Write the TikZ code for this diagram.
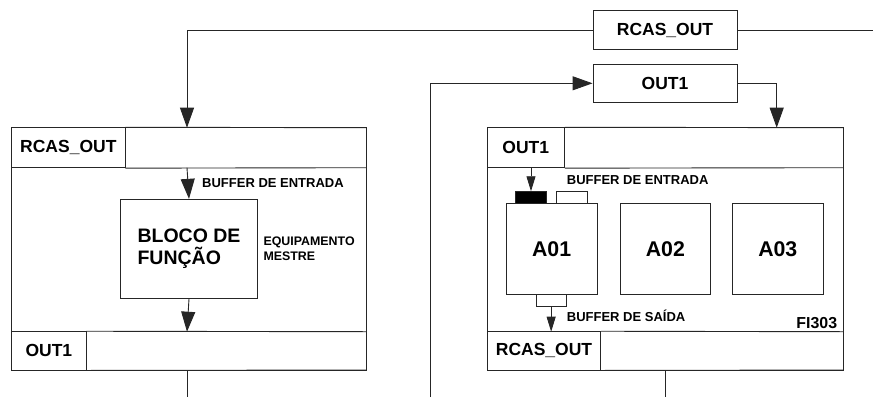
\documentclass[tikz,border=0pt]{standalone}
\usepackage{fontspec}
\setmainfont{Liberation Sans}
\usetikzlibrary{arrows.meta}
\tikzset{
  ln/.style={line width=0.9pt, draw=black!85},
  bigarr/.style={ln, -{Triangle[width=14pt,length=20pt]}},
  smallarr/.style={ln, -{Triangle[width=9pt,length=15pt]}},
  box/.style={ln, rectangle, inner sep=0pt, minimum width=#1},
  lbl/.style={inner sep=0pt, font=\fontsize{17.5}{20}\selectfont\bfseries},
  small/.style={inner sep=0pt, anchor=west, font=\fontsize{13}{15}\selectfont\bfseries},
}
\begin{document}
\begin{tikzpicture}[x=1pt,y=-1pt]
\useasboundingbox (0,0) rectangle (873,397);
% top boxes
\node[box=144, minimum height=38.6, lbl] (rcasTop) at (665,30) {RCAS\_OUT};
\node[box=144, minimum height=38, lbl] (out1Top) at (665,83.3) {OUT1};
% left block
\draw[ln] (11.7,127.7) rectangle (366.7,370);
\node[box=113.3, minimum height=40, lbl] (lhead) at (68.35,147.7) {RCAS\_OUT};
\draw[ln] (lhead.north east) -- (366.7,127.7) (lhead.south east) -- (366.7,167.7);
\node[box=74.3, minimum height=38.3, lbl] (lfoot) at (48.85,350.85) {OUT1};
\draw[ln] (lfoot.north east) -- (366.7,331.7) (lfoot.south east) -- (366.7,370);
\node[box=136.6, minimum height=99, align=left, inner sep=0pt,
  font=\fontsize{19.5}{22}\selectfont\bfseries] (fbox) at (189,248.8) {BLOCO DE\\FUNÇÃO};
\node[small] (bufInL) at (202,182.7) {BUFFER DE ENTRADA};
\node[inner sep=0pt, anchor=west, align=left, font=\fontsize{12.4}{15}\selectfont\bfseries] (equip) at (263.3,249.2) {EQUIPAMENTO\\MESTRE};
\coordinate (lTopIn) at (187,127.7);
\coordinate (lHeadOut) at (187,167.7);
\coordinate (lFootIn) at (187,331.7);
\coordinate (lFootOut) at (187,370);
\coordinate (lEnd) at (187,397);
\coordinate (rEdge) at (873,30);
% right block
\draw[ln] (487.3,127.7) rectangle (843.3,370);
\node[box=77, minimum height=40, lbl] (rhead) at (525.8,147.7) {OUT1};
\draw[ln] (rhead.north east) -- (843.3,127.7) (rhead.south east) -- (843.3,167.7);
\node[box=113.4, minimum height=38.3, lbl] (rfoot) at (544,350.85) {RCAS\_OUT};
\draw[ln] (rfoot.north east) -- (843.3,331.7) (rfoot.south east) -- (843.3,370);
\node[box=31, minimum height=11.6, fill=black] (bufBlack) at (530.5,197.5) {};
\node[box=30.6, minimum height=11.6] (bufWhite) at (572,197.5) {};
\node[box=91.3, minimum height=91, font=\fontsize{21.3}{24}\selectfont\bfseries] (a01) at (551.65,248.8) {A01};
\node[box=90.7, minimum height=91, font=\fontsize{21.3}{24}\selectfont\bfseries] (a02) at (665.35,248.8) {A02};
\node[box=91, minimum height=91, font=\fontsize{21.3}{24}\selectfont\bfseries] (a03) at (777.8,248.8) {A03};
\node[box=30.3, minimum height=11.7] (bufOut) at (551.15,300.15) {};
\node[small] (bufInR) at (566.7,180) {BUFFER DE ENTRADA};
\node[small] (bufOutT) at (566.7,316) {BUFFER DE SAÍDA};
\node[inner sep=0pt, anchor=east, font=\fontsize{15.9}{18}\selectfont\bfseries] (fi) at (837.3,323.3) {FI303};
\coordinate (rTopIn) at (776.7,127.7);
\coordinate (rHeadOut) at (531,167.7);
\coordinate (rFootIn) at (551.15,331.7);
\coordinate (rFootOut) at (665.7,370);
\coordinate (rEnd) at (665.7,397);
\coordinate (vBottom) at (430,397);
\coordinate (vTop) at (430,83.3);
% connectors
\draw[ln] (rcasTop.east) -- (rEdge);
\draw[bigarr] (rcasTop.west) -| (lTopIn);
\draw[bigarr] (lHeadOut) -- (fbox.north);
\draw[bigarr] (fbox.south) -- (lFootIn);
\draw[ln] (lFootOut) -- (lEnd);
\draw[bigarr] (vBottom) -- (vTop) -- (out1Top.west);
\draw[bigarr] (out1Top.east) -| (rTopIn);
\draw[smallarr] (rHeadOut) -- (rHeadOut |- bufBlack.north);
\draw[smallarr] (bufOut.south) -- (rFootIn);
\draw[ln] (rFootOut) -- (rEnd);
\end{tikzpicture}
\end{document}
